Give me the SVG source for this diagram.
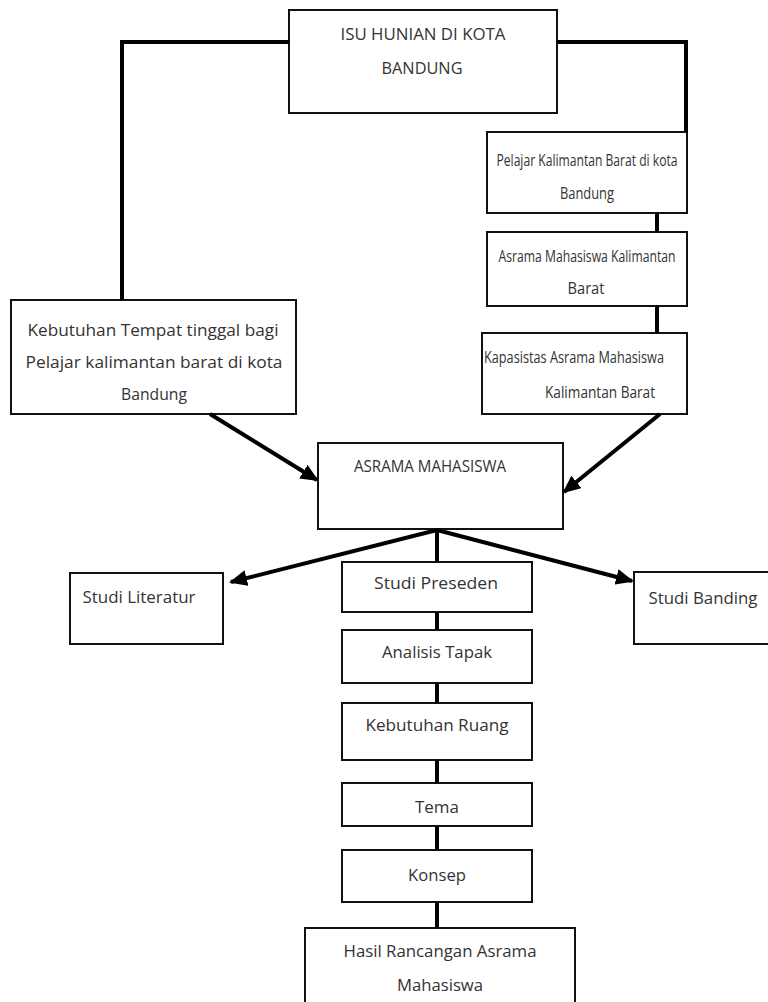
<svg xmlns="http://www.w3.org/2000/svg" width="768" height="1002" viewBox="0 0 768 1002">
<style>
.box{fill:#fff;stroke:#111;stroke-width:2}
.t{font-family:"Open Sans","Noto Sans","Liberation Sans",sans-serif;font-size:16px;fill:#333;text-anchor:middle}
.b{font-size:17px}
.c{fill:none;stroke:#000;stroke-width:4}
</style>
<defs>
<marker id="ah" markerUnits="userSpaceOnUse" markerWidth="18" markerHeight="16" refX="16" refY="8" orient="auto">
<path d="M0,0 L18,8 L0,16 Z" fill="#000"/>
</marker>
</defs>
<rect width="768" height="1002" fill="#fff"/>
<g id="n-isu"><rect class="box" x="289" y="10" width="268" height="103"/>
<text class="t" x="423" y="40" textLength="165" lengthAdjust="spacingAndGlyphs">ISU HUNIAN DI KOTA</text><text class="t" x="422" y="74" textLength="81" lengthAdjust="spacingAndGlyphs">BANDUNG</text></g>
<g id="n-pelajar"><rect class="box" x="487" y="132" width="200" height="81"/>
<text class="t" x="587" y="166" textLength="181" lengthAdjust="spacingAndGlyphs">Pelajar Kalimantan Barat di kota</text><text class="t" x="587" y="199" textLength="54" lengthAdjust="spacingAndGlyphs">Bandung</text></g>
<g id="n-asramakalbar"><rect class="box" x="487" y="232" width="200" height="74"/>
<text class="t" x="587" y="262" textLength="177" lengthAdjust="spacingAndGlyphs">Asrama Mahasiswa Kalimantan</text><text class="t" x="586" y="294" textLength="37" lengthAdjust="spacingAndGlyphs">Barat</text></g>
<g id="n-kapasitas"><rect class="box" x="482" y="333" width="205" height="81"/>
<text class="t" x="574" y="363" textLength="180" lengthAdjust="spacingAndGlyphs">Kapasistas Asrama Mahasiswa</text><text class="t" x="600" y="398" textLength="110" lengthAdjust="spacingAndGlyphs">Kalimantan Barat</text></g>
<g id="n-kebutuhan"><rect class="box" x="11" y="300" width="285" height="114"/>
<text class="t b" x="153" y="336" textLength="251" lengthAdjust="spacingAndGlyphs">Kebutuhan Tempat tinggal bagi</text><text class="t b" x="154" y="368" textLength="257" lengthAdjust="spacingAndGlyphs">Pelajar kalimantan barat di kota</text><text class="t b" x="154" y="400" textLength="66" lengthAdjust="spacingAndGlyphs">Bandung</text></g>
<g id="n-asrama"><rect class="box" x="318" y="443" width="245" height="86"/>
<text class="t" x="430" y="472" textLength="152" lengthAdjust="spacingAndGlyphs">ASRAMA MAHASISWA</text></g>
<g id="n-literatur"><rect class="box" x="70" y="573" width="153" height="71"/>
<text class="t" x="139" y="603" textLength="113" lengthAdjust="spacingAndGlyphs">Studi Literatur</text></g>
<g id="n-preseden"><rect class="box" x="342" y="562" width="190" height="50"/>
<text class="t" x="436" y="589" textLength="124" lengthAdjust="spacingAndGlyphs">Studi Preseden</text></g>
<g id="n-banding"><rect class="box" x="634" y="572" width="140" height="72"/>
<text class="t" x="703" y="604" textLength="109" lengthAdjust="spacingAndGlyphs">Studi Banding</text></g>
<g id="n-tapak"><rect class="box" x="342" y="630" width="190" height="53"/>
<text class="t" x="437" y="658" textLength="110" lengthAdjust="spacingAndGlyphs">Analisis Tapak</text></g>
<g id="n-ruang"><rect class="box" x="342" y="703" width="190" height="57"/>
<text class="t" x="437" y="731" textLength="143" lengthAdjust="spacingAndGlyphs">Kebutuhan Ruang</text></g>
<g id="n-tema"><rect class="box" x="342" y="783" width="190" height="43"/>
<text class="t" x="437" y="813" textLength="44" lengthAdjust="spacingAndGlyphs">Tema</text></g>
<g id="n-konsep"><rect class="box" x="342" y="850" width="190" height="52"/>
<text class="t" x="437" y="881" textLength="58" lengthAdjust="spacingAndGlyphs">Konsep</text></g>
<g id="n-hasil"><rect class="box" x="305" y="928" width="270" height="80"/>
<text class="t" x="440" y="957" textLength="193" lengthAdjust="spacingAndGlyphs">Hasil Rancangan Asrama</text><text class="t" x="440" y="991" textLength="86" lengthAdjust="spacingAndGlyphs">Mahasiswa</text></g>
<g id="connectors">
<polyline class="c" points="289,42 122,42 122,300"/>
<polyline class="c" points="557,42 686,42 686,132"/>
<line class="c" x1="657" y1="213" x2="657" y2="232"/>
<line class="c" x1="657" y1="306" x2="657" y2="333"/>
<line class="c" x1="210" y1="414" x2="317" y2="480" marker-end="url(#ah)"/>
<line class="c" x1="660" y1="414" x2="564" y2="492" marker-end="url(#ah)"/>
<line class="c" x1="437" y1="530" x2="231" y2="582" marker-end="url(#ah)"/>
<line class="c" x1="437" y1="530" x2="632" y2="581" marker-end="url(#ah)"/>
<line class="c" x1="437" y1="530" x2="437" y2="562"/>
<line class="c" x1="437" y1="612" x2="437" y2="630"/>
<line class="c" x1="437" y1="683" x2="437" y2="703"/>
<line class="c" x1="437" y1="760" x2="437" y2="783"/>
<line class="c" x1="437" y1="826" x2="437" y2="850"/>
<line class="c" x1="437" y1="902" x2="437" y2="928"/>
</g>
</svg>
